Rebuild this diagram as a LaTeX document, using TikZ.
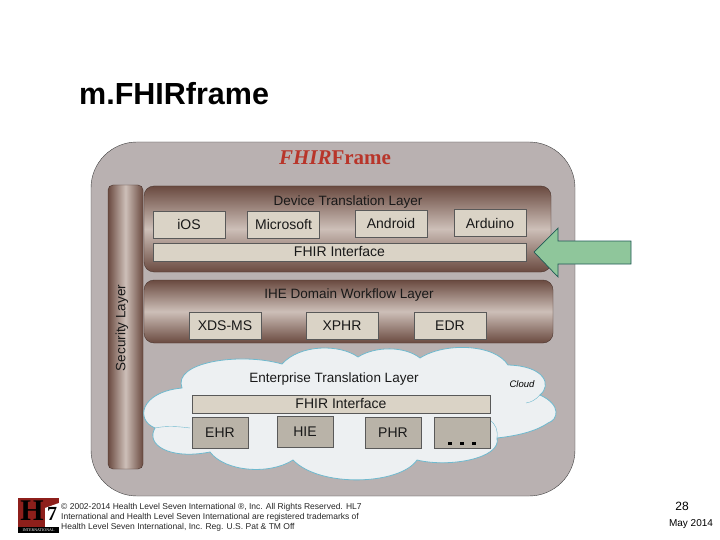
\documentclass[tikz,border=0pt]{standalone}
\usepackage{fontspec}
\setmainfont{Liberation Sans}
\newfontfamily\seriffont{Liberation Serif}
\definecolor{frameback}{HTML}{B9B1B1}
\definecolor{layerdark}{HTML}{6A4A40}
\definecolor{layerlight}{HTML}{CDBFB8}
\definecolor{boxfill}{HTML}{DAD3C6}
\definecolor{cloudline}{HTML}{6FB9CE}
\definecolor{cloudfill}{HTML}{EDF0F2}
\definecolor{arrowfill}{HTML}{8FC69B}
\definecolor{arrowline}{HTML}{1F5A55}
\definecolor{logored}{HTML}{8E1F1B}
\definecolor{titlered}{HTML}{B8352A}
\tikzset{
  layerbox/.style={draw=layerdark!70!black,rounded corners=10pt,top color=layerdark,bottom color=layerdark,middle color=layerlight},
  platebox/.style={draw=black!65,line width=0.8pt,fill=boxfill,inner sep=0pt,text=black!90,font=\fontsize{14}{16}\selectfont},
  greybox/.style={platebox,fill=boxfill!85!black},
  layerlabel/.style={text=black!90,font=\fontsize{13.5}{16}\selectfont},
}
\begin{document}
\begin{tikzpicture}[x=1pt,y=-1pt]
\useasboundingbox (0,0) rectangle (720,540);
\fill[white] (0,0) rectangle (720,540);

\node[anchor=base west,inner sep=0pt,font=\bfseries\fontsize{30.5}{34}\selectfont] (title) at (79,105) {m.FHIRframe};

\draw[black!75,fill=frameback,rounded corners=46pt] (91,142) rectangle (575,496);
\node[font=\seriffont\bfseries\fontsize{21}{23}\selectfont,text=titlered] (frametitle) at (335,158) {\textit{FHIR}Frame};

% security bar
\draw[layerdark!70!black,left color=layerdark,right color=layerdark,middle color=layerlight,rounded corners=5pt] (108,185) rectangle (143,469);
\node[rotate=90,layerlabel] (security) at (122,328) {Security Layer};

% device layer
\draw[layerbox] (144,186) rectangle (551,272);
\node[layerlabel] (devicelabel) at (348,202) {Device Translation Layer};
\node[platebox,minimum width=72pt,minimum height=27pt] (ios) at (189,224.5) {iOS};
\node[platebox,minimum width=72pt,minimum height=27pt] (microsoft) at (283.5,224.5) {Microsoft};
\node[platebox,minimum width=72pt,minimum height=27pt] (android) at (391,223.5) {Android};
\node[platebox,minimum width=72pt,minimum height=27pt] (arduino) at (490,223) {Arduino};
\node[platebox,minimum width=373pt,minimum height=18pt] (fhirtop) at (339.5,252) {FHIR Interface};

% workflow layer
\draw[layerbox] (144,280) rectangle (553,343);
\node[layerlabel] (ihelabel) at (349,295) {IHE Domain Workflow Layer};
\node[platebox,minimum width=72pt,minimum height=27pt] (xds) at (225,325.5) {XDS-MS};
\node[platebox,minimum width=72pt,minimum height=27pt] (xphr) at (342,325.5) {XPHR};
\node[platebox,minimum width=72pt,minimum height=27pt] (edr) at (450,325.5) {EDR};

% cloud
\draw[cloudline,fill=cloudfill,line width=0.8pt] (182,388)
  .. controls (172,362) and (240,352) .. (282,364)
  .. controls (300,344) and (340,344) .. (358,357)
  .. controls (375,346) and (405,346) .. (420,358)
  .. controls (445,342) and (495,344) .. (508,365)
  .. controls (545,366) and (552,385) .. (540,395)
  .. controls (562,405) and (558,420) .. (548,423)
  .. controls (535,432) and (515,436) .. (497,438)
  .. controls (502,458) and (450,468) .. (417,460)
  .. controls (400,485) and (320,488) .. (293,460)
  .. controls (270,475) and (225,472) .. (210,452)
  .. controls (170,460) and (145,445) .. (155,428)
  .. controls (135,420) and (140,392) .. (182,388) -- cycle;
\draw[cloudline] (155,428) .. controls (165,426) and (175,426) .. (190,428);
\draw[cloudline] (497,438) .. controls (498,430) and (496,425) .. (490,420);
\draw[cloudline] (540,395) .. controls (535,400) and (532,402) .. (526,403);
\node[layerlabel] (cloudlabel) at (334,379) {Enterprise Translation Layer};
\node[font=\itshape\fontsize{9.5}{11}\selectfont] (cloudname) at (522,384) {Cloud};
\node[greybox,fill=boxfill,minimum width=298pt,minimum height=18pt] (fhirbottom) at (341,404) {FHIR Interface};
\node[greybox,minimum width=56pt,minimum height=31pt] (ehr) at (220,432.5) {EHR};
\node[greybox,minimum width=56pt,minimum height=31pt] (hie) at (305,432) {HIE};
\node[greybox,minimum width=56pt,minimum height=31pt] (phr) at (393,432.5) {PHR};
\node[greybox,minimum width=56pt,minimum height=31pt] (more) at (462,432.5) {};
\foreach \dotx in {448,460,472}
  \fill (\dotx,441.5) rectangle +(3.5,3.5);

% arrow
\draw[arrowline,fill=arrowfill,line width=0.7pt] (534,252) -- (558,228) -- (558,241) -- (631,241) -- (631,264) -- (558,264) -- (558,277) -- cycle;

% footer
\fill[logored] (18,498) rectangle (59,533);
\fill[white] (45,508) -- (59,503) -- (59,527) -- (45,527) -- cycle;
\fill[black] (18,527) rectangle (59,533);
\node[font=\seriffont\bfseries\fontsize{30}{30}\selectfont,text=black,inner sep=0pt] (logoh) at (32,511) {H};
\node[font=\seriffont\bfseries\fontsize{20}{20}\selectfont,text=black,inner sep=0pt] (logoseven) at (52,514) {7};
\node[font=\seriffont\fontsize{4}{4}\selectfont,text=white,inner sep=0pt] (logotext) at (38.5,530.5) {INTERNATIONAL};
\node[anchor=north west,inner sep=0pt,align=left,font=\fontsize{8.5}{10.2}\selectfont,text=black!85] (legal) at (61,503) {\textcopyright{} 2002-2014 Health Level Seven International \textregistered, Inc. All Rights Reserved. HL7\\International and Health Level Seven International are registered trademarks of\\Health Level Seven International, Inc. Reg. U.S. Pat \& TM Off};
\node[font=\fontsize{12}{14}\selectfont] (pagenum) at (682,506) {28};
\node[font=\fontsize{10}{12}\selectfont] (datelabel) at (691,524) {May 2014};
\end{tikzpicture}
\end{document}
